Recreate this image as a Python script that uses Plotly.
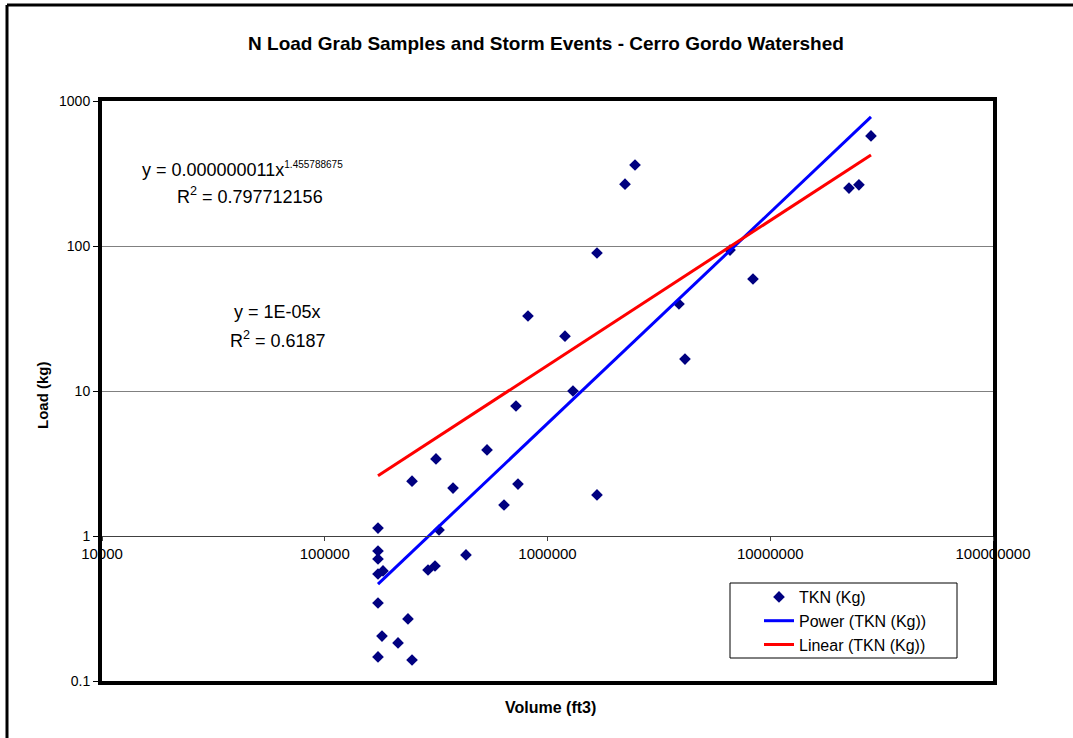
import numpy as np
import plotly.graph_objects as go

# ---- data ----
volume_ft3 = [173400, 173400, 173400, 173400, 182600, 173400, 180700, 173400,
              246500, 315800, 376600, 236400, 213300, 246500, 290800, 312600,
              325900, 430600, 535100, 637900, 737100, 722000, 817400, 1198000,
              1301000, 1668000, 1668000, 2228000, 2471000, 3892000, 4142000,
              6597000, 8366000, 22570000, 25010000, 28330000]
tkn_kg = [1.135, 0.788, 0.694, 0.547, 0.574, 0.345, 0.204, 0.1465,
          2.39, 3.40, 2.14, 0.268, 0.183, 0.1396, 0.583, 0.621,
          1.10, 0.740, 3.92, 1.636, 2.28, 7.88, 32.9, 23.9,
          10.0, 89.5, 1.92, 267, 362, 39.8, 16.6,
          93.8, 59.2, 251, 264, 574]

power_a = 0.000000011
power_b = 1.455788675
linear_m = 1.5e-5

x_ticks = [10000, 100000, 1000000, 10000000, 100000000]
x_tick_text = ["10000", "100000", "1000000", "10000000", "100000000"]
y_ticks = [0.1, 1, 10, 100, 1000]
y_tick_text = ["0.1", "1", "10", "100", "1000"]

title = "N Load Grab Samples and Storm Events - Cerro Gordo Watershed"
x_title = "Volume (ft3)"
y_title = "Load (kg)"
FONT = "Liberation Sans, Arial, sans-serif"

# trendline x range
xs = np.logspace(np.log10(min(volume_ft3)), np.log10(max(volume_ft3)), 50)
power_y = power_a * xs ** power_b
linear_y = linear_m * xs

W, H = 1073, 738
L, R, T, B = 102, 993, 101, 681


def px(x):
    return (x - L) / (R - L)


def py(y):
    return (B - y) / (B - T)


fig = go.Figure()
fig.add_trace(go.Scatter(x=volume_ft3, y=tkn_kg, mode="markers", name="TKN (Kg)",
                         marker=dict(symbol="diamond", size=9, color="#000080")))
fig.add_trace(go.Scatter(x=xs, y=power_y, mode="lines", name="Power (TKN (Kg))",
                         line=dict(color="#0000FF", width=3)))
fig.add_trace(go.Scatter(x=xs, y=linear_y, mode="lines", name="Linear (TKN (Kg))",
                         line=dict(color="#FF0000", width=3)))
# invisible trace to carry the crossing x axis
fig.add_trace(go.Scatter(x=[x_ticks[0]], y=[1], xaxis="x2", yaxis="y", mode="markers",
                         marker=dict(opacity=0), showlegend=False, hoverinfo="skip"))

fig.update_layout(
    width=W, height=H,
    margin=dict(l=L, r=W - R, t=T, b=H - B),
    paper_bgcolor="white", plot_bgcolor="white",
    font=dict(family=FONT, color="black", size=14),
    title=dict(text="<b>" + title + "</b>", x=546 / W, xanchor="center",
               y=1 - 43 / H, yanchor="middle", font=dict(size=19)),
    xaxis=dict(type="log", range=[4, 8], showline=True, mirror=True, linewidth=4,
               linecolor="black", showticklabels=False, ticks="", showgrid=False,
               zeroline=False),
    xaxis2=dict(type="log", range=[4, 8], overlaying="x", anchor="free", position=0.25,
                side="bottom", showline=True, linewidth=1, linecolor="#404040",
                ticks="outside", ticklen=4, tickcolor="#404040",
                tickvals=x_ticks, ticktext=x_tick_text, showgrid=False, zeroline=False,
                tickfont=dict(size=15)),
    yaxis=dict(type="log", range=[-1, 3], showline=True, mirror=True, linewidth=4,
               linecolor="black", ticks="outside", ticklen=5, tickcolor="black",
               tickvals=y_ticks, ticktext=y_tick_text, showgrid=True,
               gridcolor="#808080", gridwidth=1, zeroline=False,
               tickfont=dict(size=14)),
    legend=dict(x=px(759), y=py(580), xanchor="left", yanchor="top",
                bgcolor="rgba(0,0,0,0)", borderwidth=0,
                font=dict(size=16), tracegroupgap=0),
    showlegend=True,
)

# axis titles
fig.add_annotation(text="<b>" + x_title + "</b>", xref="paper", yref="paper",
                   x=px(550), y=py(707), xanchor="center", yanchor="middle",
                   showarrow=False, font=dict(size=16))
fig.add_annotation(text="<b>" + y_title + "</b>", xref="paper", yref="paper",
                   x=px(42), y=py(395), xanchor="center", yanchor="middle",
                   textangle=-90, showarrow=False, font=dict(size=15))

ann = [
    ("y = 0.000000011x<sup><span style='font-size:10px'>1.455788675</span></sup>", 140, 170),
    ("R<sup>2</sup> = 0.797712156", 175, 195),
    ("y = 1E-05x", 232, 312),
    ("R<sup>2</sup> = 0.6187", 228, 339),
]
for text, ax_, ay_ in ann:
    fig.add_annotation(text=text, xref="paper", yref="paper", x=px(ax_), y=py(ay_),
                       xanchor="left", yanchor="middle", showarrow=False,
                       font=dict(size=18, family=FONT))

# legend frame
fig.add_shape(type="rect", xref="paper", yref="paper", x0=px(730), x1=px(957),
              y0=py(658), y1=py(583), line=dict(color="black", width=1),
              fillcolor="white", layer="above")

# outer chart border (left and top edges visible)
fig.add_shape(type="line", xref="paper", yref="paper", x0=px(7), x1=px(7),
              y0=py(H + 20), y1=py(5), line=dict(color="black", width=3))
fig.add_shape(type="line", xref="paper", yref="paper", x0=px(7), x1=px(W + 20),
              y0=py(5), y1=py(5), line=dict(color="black", width=3))

fig.write_html("out.html")
